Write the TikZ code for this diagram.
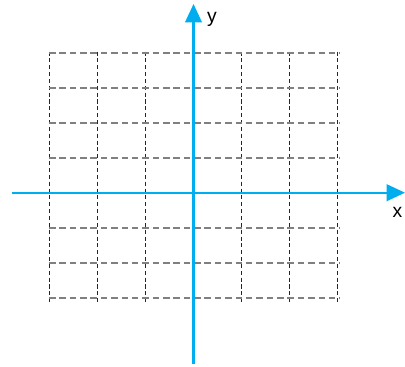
\documentclass[tikz,border=0pt]{standalone}
\usepackage{fontspec}
\setmainfont{Liberation Sans}
\usetikzlibrary{arrows.meta}
\definecolor{axisblue}{RGB}{0,174,239}

\begin{document}
\begin{tikzpicture}[x=0.02cm,y=-0.02cm,
  axis/.style={-{Triangle[length=10.5pt,width=9.5pt]},line width=1.2pt,axisblue},
  vgrid/.style={dash pattern=on 2.3pt off 1.6pt,line width=0.6pt,black!85},
  hgrid/.style={dash pattern=on 3.7pt off 2.2pt,line width=0.95pt,black!50},
  lbl/.style={font=\fontsize{11}{13}\selectfont,inner sep=0pt,anchor=base}
]
  \useasboundingbox (0,0) rectangle (405,366);
  % grid
  \foreach \i in {-3,-2,-1,1,2,3}{\draw[vgrid](193.5+48*\i,51.5)--(193.5+48*\i,302);}
  \foreach \j in {-4,...,-1,1,2,3}{\draw[hgrid](49,192.7+35*\j)--(340,192.7+35*\j);}
  % axes
  \coordinate (xs) at (12,192.7);
  \coordinate (xe) at (405,192.7);
  \coordinate (ys) at (193.5,364);
  \coordinate (ye) at (193.5,4);
  \draw[axis](xs)--(xe);
  \draw[axis](ys)--(ye);
  \node[lbl](xlbl) at (397.5,217) {x};
  \node[lbl](ylbl) at (212,22) {y};
\end{tikzpicture}
\end{document}
